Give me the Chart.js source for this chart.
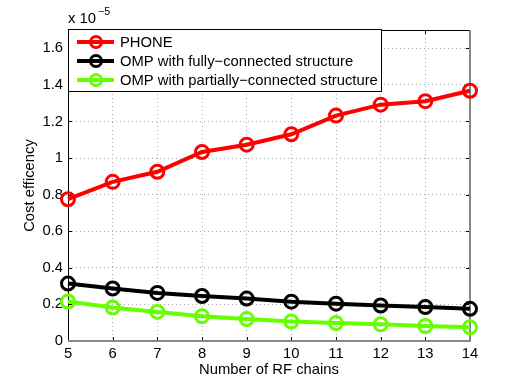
<!DOCTYPE html>
<html>
<head>
    <title>Cost efficiency vs RF chains</title>
    <script src="https://cdn.jsdelivr.net/npm/chart.js"></script>
    <style>
        body { margin:0; background:#fff; }
        #wrap { width:518px; height:384px; }
    </style>
</head>
<body>
<div id="wrap"><canvas id="costChart" width="518" height="384"></canvas></div>
<script>
// values in units of 1e-5
const rfChains = [5, 6, 7, 8, 9, 10, 11, 12, 13, 14];
const phone    = [0.775, 0.870, 0.925, 1.033, 1.073, 1.130, 1.232, 1.292, 1.311, 1.368];
const ompFull  = [0.314, 0.287, 0.263, 0.246, 0.232, 0.215, 0.204, 0.194, 0.186, 0.176];
const ompPart  = [0.216, 0.183, 0.159, 0.135, 0.120, 0.106, 0.098, 0.091, 0.082, 0.075];
const yTicks   = [0, 0.2, 0.4, 0.6, 0.8, 1, 1.2, 1.4, 1.6];
const labels   = ['PHONE', 'OMP with fully\u2212connected structure', 'OMP with partially\u2212connected structure'];
const colors   = ['#ff0000', '#000000', 'rgb(102,255,0)'];

const FONT = "'Liberation Sans', Arial, sans-serif";
const FS = 14.8;

function series(vals){ return rfChains.map((x,i)=>({x:x, y:vals[i]})); }

const frame = {
  id:'frame',
  beforeDatasetsDraw(chart){
    const {ctx, chartArea:a, scales:{x, y}} = chart;
    ctx.save();
    ctx.lineWidth = 1;
    ctx.strokeStyle = '#000';
    ctx.beginPath();
    x.ticks.forEach(t=>{
      const px = Math.round(x.getPixelForValue(t.value)) + 0.5;
      ctx.moveTo(px, a.bottom); ctx.lineTo(px, a.bottom-4);
      ctx.moveTo(px, a.top); ctx.lineTo(px, a.top+4);
    });
    y.ticks.forEach(t=>{
      const py = Math.round(y.getPixelForValue(t.value)) + 0.5;
      ctx.moveTo(a.left, py); ctx.lineTo(a.left+4, py);
      ctx.moveTo(a.right, py); ctx.lineTo(a.right-4, py);
    });
    ctx.stroke();
    // box
    ctx.beginPath();
    ctx.moveTo(a.left+0.5, a.bottom); ctx.lineTo(a.left+0.5, a.top+0.5); ctx.lineTo(a.right, a.top+0.5);
    ctx.stroke();
    ctx.strokeStyle = '#888';
    ctx.lineWidth = 2;
    ctx.beginPath();
    ctx.moveTo(a.left, a.bottom); ctx.lineTo(a.right, a.bottom); ctx.lineTo(a.right, a.top);
    ctx.stroke();
    // exponent label
    ctx.fillStyle = '#000';
    ctx.textBaseline = 'alphabetic';
    ctx.font = FS + 'px ' + FONT;
    ctx.fillText('x 10', a.left, 23);
    ctx.font = '10.5px ' + FONT;
    ctx.fillText('\u22125', a.left + 30, 15);
    ctx.restore();
  },
  afterDatasetsDraw(chart){
    const {ctx, chartArea:a} = chart;
    ctx.save();
    const lx = a.left, ly = a.top - 1, lw = 313, lh = 62;
    ctx.fillStyle = '#fff';
    ctx.fillRect(lx, ly, lw, lh);
    ctx.strokeStyle = '#000';
    ctx.lineWidth = 1;
    ctx.strokeRect(lx+0.5, ly+0.5, lw, lh);
    ctx.font = FS + 'px ' + FONT;
    ctx.textBaseline = 'middle';
    chart.data.datasets.forEach((ds,i)=>{
      const cy = ly + 13 + i*19;
      ctx.strokeStyle = ds.borderColor;
      ctx.lineWidth = 4;
      ctx.beginPath(); ctx.moveTo(lx+9, cy); ctx.lineTo(lx+46, cy); ctx.stroke();
      ctx.lineWidth = 3;
      ctx.beginPath(); ctx.arc(lx+28, cy, 5.5, 0, Math.PI*2); ctx.stroke();
      ctx.fillStyle = '#000';
      ctx.fillText(ds.label, lx+52, cy+1);
    });
    ctx.restore();
  }
};

const datasets = [phone, ompFull, ompPart].map((vals,i)=>({
  label: labels[i],
  data: series(vals),
  borderColor: colors[i],
  backgroundColor: 'transparent',
  borderWidth: 4,
  pointRadius: 6.5,
  pointBorderWidth: 3,
  pointBackgroundColor: 'transparent',
  pointBorderColor: colors[i],
  tension: 0,
  clip: false
}));

new Chart(document.getElementById('costChart'), {
  type:'line',
  data:{datasets:datasets},
  options:{
    responsive:false,
    animation:false,
    layout:{padding:{left:0, right:48, top:30, bottom:0}},
    plugins:{legend:{display:false}, tooltip:{enabled:false}},
    scales:{
      x:{
        type:'linear', min:5, max:14,
        afterBuildTicks: s => { s.ticks = rfChains.map(v=>({value:v})); },
        afterFit: s => { s.height = 43; },
        ticks:{color:'#000', font:{family:FONT, size:FS}, padding:4, maxRotation:0},
        grid:{color:'#aaa', lineWidth:1, drawTicks:false},
        border:{display:false, dash:[1,3]},
        title:{display:true, text:'Number of RF chains', color:'#000', font:{family:FONT, size:FS}, padding:{top:0, bottom:5}}
      },
      y:{
        type:'linear', min:0, max:1.7,
        afterBuildTicks: s => { s.ticks = yTicks.map(v=>({value:v})); },
        afterFit: s => { s.width = 68; },
        ticks:{color:'#000', font:{family:FONT, size:FS}, padding:5, callback: v => String(+v.toFixed(1))},
        grid:{color:'#aaa', lineWidth:1, drawTicks:false},
        border:{display:false, dash:[1,3]},
        title:{display:true, text:'Cost efficency', color:'#000', font:{family:FONT, size:FS}, padding:{top:21, bottom:0}}
      }
    }
  },
  plugins:[frame]
});
</script>
</body>
</html>
